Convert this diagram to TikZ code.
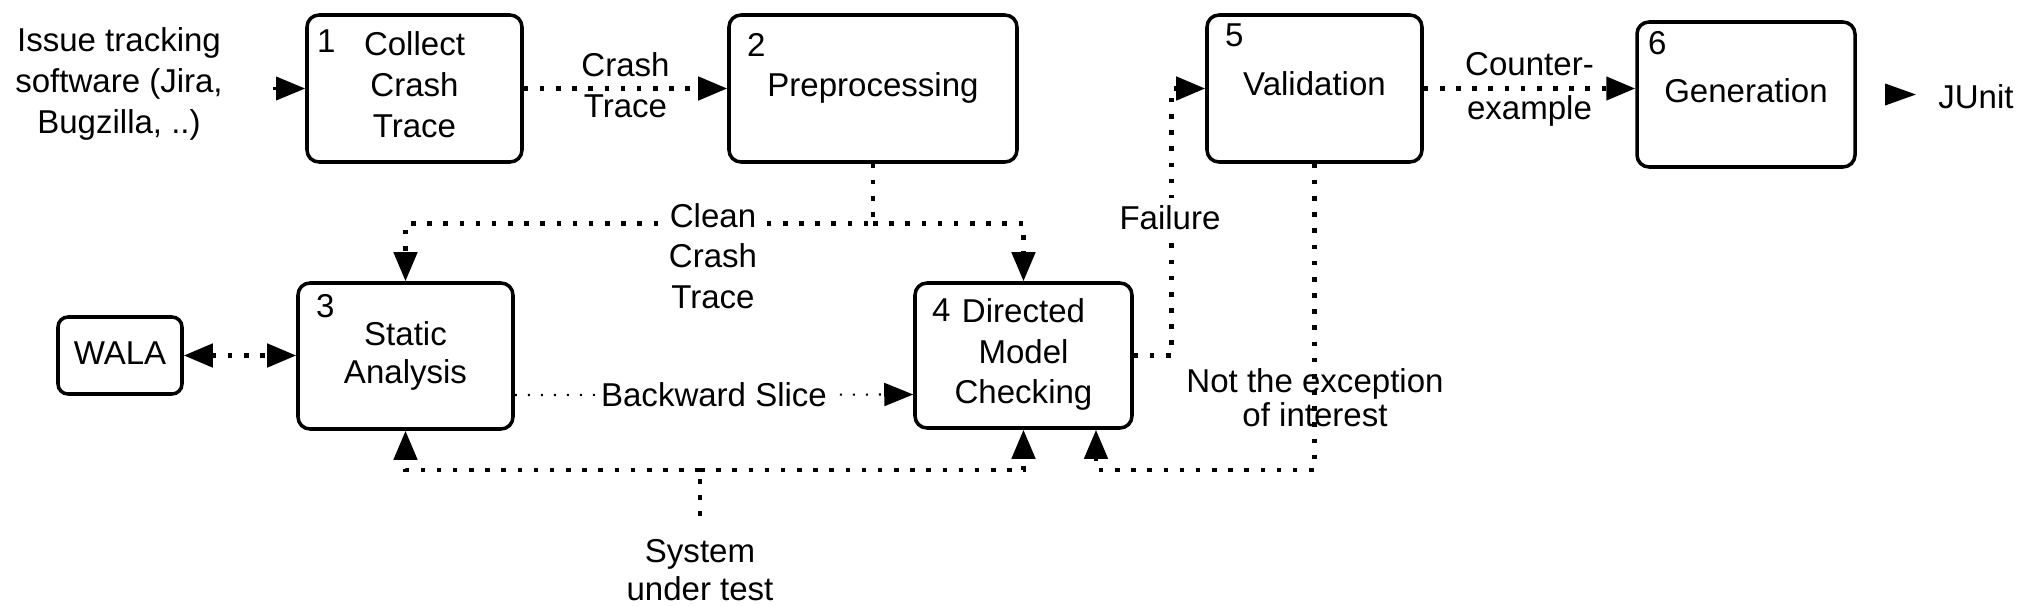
\documentclass[tikz,border=0pt]{standalone}
\usepackage{fontspec}
\setmainfont{Liberation Sans}
\usetikzlibrary{arrows.meta, positioning}

\begin{document}
\begin{tikzpicture}[
        font=\fontsize{9.4}{10.8}\selectfont,
        >={Triangle[length=2.9mm, width=2.3mm]},
        box/.style={draw, line width=1pt, rounded corners=0.12cm, inner sep=0pt,
                minimum width=2.15cm, minimum height=1.47cm},
        boxtext/.style={align=center, inner sep=0pt},
        oneline/.style={boxtext, text height=0.24cm, text depth=0.07cm},
        txt/.style={align=center, inner sep=1pt},
        num/.style={inner sep=0pt},
        arrow/.style={->, line width=1pt},
        dots/.style={line width=1.3pt, dash pattern=on 1.3pt off 3.3pt},
        finedots/.style={line width=0.6pt, dash pattern=on 0.6pt off 3.1pt}
        ]

        \useasboundingbox (0,0) rectangle (20.25,-6.06);

        % Top row
        \node[txt, font=\fontsize{9.4}{11.6}\selectfont] (issue) at (1.19,-0.84) {Issue tracking\\software (Jira,\\Bugzilla, ..)};
        \node[box] (collect) at (4.145,-0.885) {};
        \node[boxtext, yshift=0.04cm, font=\fontsize{9.4}{11.6}\selectfont] (collect-t) at (collect) {Collect\\Crash\\Trace};
        \node[box, minimum width=2.88cm] (prep) at (8.73,-0.885) {};
        \node[oneline, yshift=0.01cm] (prep-t) at (prep) {Preprocessing};
        \node[box] (valid) at (13.145,-0.885) {};
        \node[oneline, yshift=0.02cm] (valid-t) at (valid) {Validation};
        \node[box, minimum width=2.18cm, minimum height=1.45cm] (gen) at (17.46,-0.945) {};
        \node[oneline, yshift=0.01cm] (gen-t) at (gen) {Generation};
        \node[txt] (junit) at (19.76,-0.97) {JUnit};

        % Bottom row
        \node[box, rounded corners=0.1cm, minimum width=1.24cm, minimum height=0.77cm] (wala) at (1.20,-3.555) {};
        \node[oneline] (wala-t) at (wala) {WALA};
        \node[box, minimum height=1.46cm] (static) at (4.055,-3.56) {};
        \node[boxtext, font=\fontsize{9.4}{11}\selectfont] (static-t) at (static) {Static\\Analysis};
        \node[box, minimum width=2.17cm, minimum height=1.45cm] (dmc) at (10.235,-3.555) {};
        \node[boxtext, yshift=0.01cm, font=\fontsize{9.4}{11.4}\selectfont] (dmc-t) at (dmc) {Directed\\Model\\Checking};
        \coordinate (merge) at (7.0,-4.70);
        \node[txt, below=0.65cm of merge] (sut) {System\\under test};

        % Step numbers
        \node[num] (n1) at ([shift={(0.21,-0.28)}]collect.north west) {1};
        \node[num] (n2) at ([shift={(0.29,-0.32)}]prep.north west) {2};
        \node[num] (n3) at ([shift={(0.29,-0.25)}]static.north west) {3};
        \node[num] (n4) at ([shift={(0.28,-0.29)}]dmc.north west) {4};
        \node[num] (n5) at ([shift={(0.29,-0.22)}]valid.north west) {5};
        \node[num] (n6) at ([shift={(0.22,-0.23)}]gen.north west) {6};

        % Connectors
        \draw[arrow, shorten <=0.46cm] (issue.east |- collect.west) -- (collect.west);
        \draw[dots, ->] (collect) -- node[txt, yshift=0.03cm, font=\fontsize{9.4}{11.6}\selectfont] {Crash\\Trace} (prep);

        \coordinate (split) at ([yshift=-0.6cm]prep.south);
        \draw[dots, ->] (prep.south) -- (split) -| (static.north);
        \draw[dots, ->] (split) -| (dmc.north);
        \node[txt, fill=white, font=\fontsize{9.4}{11.6}\selectfont] (clean) at (7.13,-2.56) {Clean\\Crash\\Trace};

        \draw[dots, <->] (wala.east) -- (wala.east -| static.west);
        \draw[finedots, ->] ([yshift=-0.39cm]static.east) -- node[txt, fill=white, inner sep=0.06cm] {Backward Slice} ([yshift=-0.39cm]dmc.west);

        \draw[dots, ->] (dmc.east) -- ++(0.38,0) |- (valid.west);
        \node[txt, fill=white, inner sep=0.08cm] (fail) at (11.70,-2.18) {Failure};

        \draw[dots, ->] (valid.east) -- node[txt, yshift=-0.01cm, font=\fontsize{9.4}{12.4}\selectfont] {Counter-\\example} (valid.east -| gen.west);
        \draw[->, >={Triangle[length=3.1mm, width=2.1mm]}, line width=1pt, shorten <=0.3cm, shorten >=0.18cm] (gen.east) -- (gen.east -| junit.west);

        \draw[dots, shorten <=0.19cm] (sut.north) -- (merge);
        \draw[dots, ->] (merge) -| (static.south);
        \draw[dots, ->] (merge) -| (dmc.south);

        \coordinate (back) at ([xshift=0.725cm]dmc.south);
        \draw[dots, ->] (valid.south) |- (back |- merge) -- (back);
        \node[txt, font=\fontsize{9.4}{8.2}\selectfont] (notexc) at (13.15,-3.98) {Not the exception\\of interest};

\end{tikzpicture}
\end{document}
